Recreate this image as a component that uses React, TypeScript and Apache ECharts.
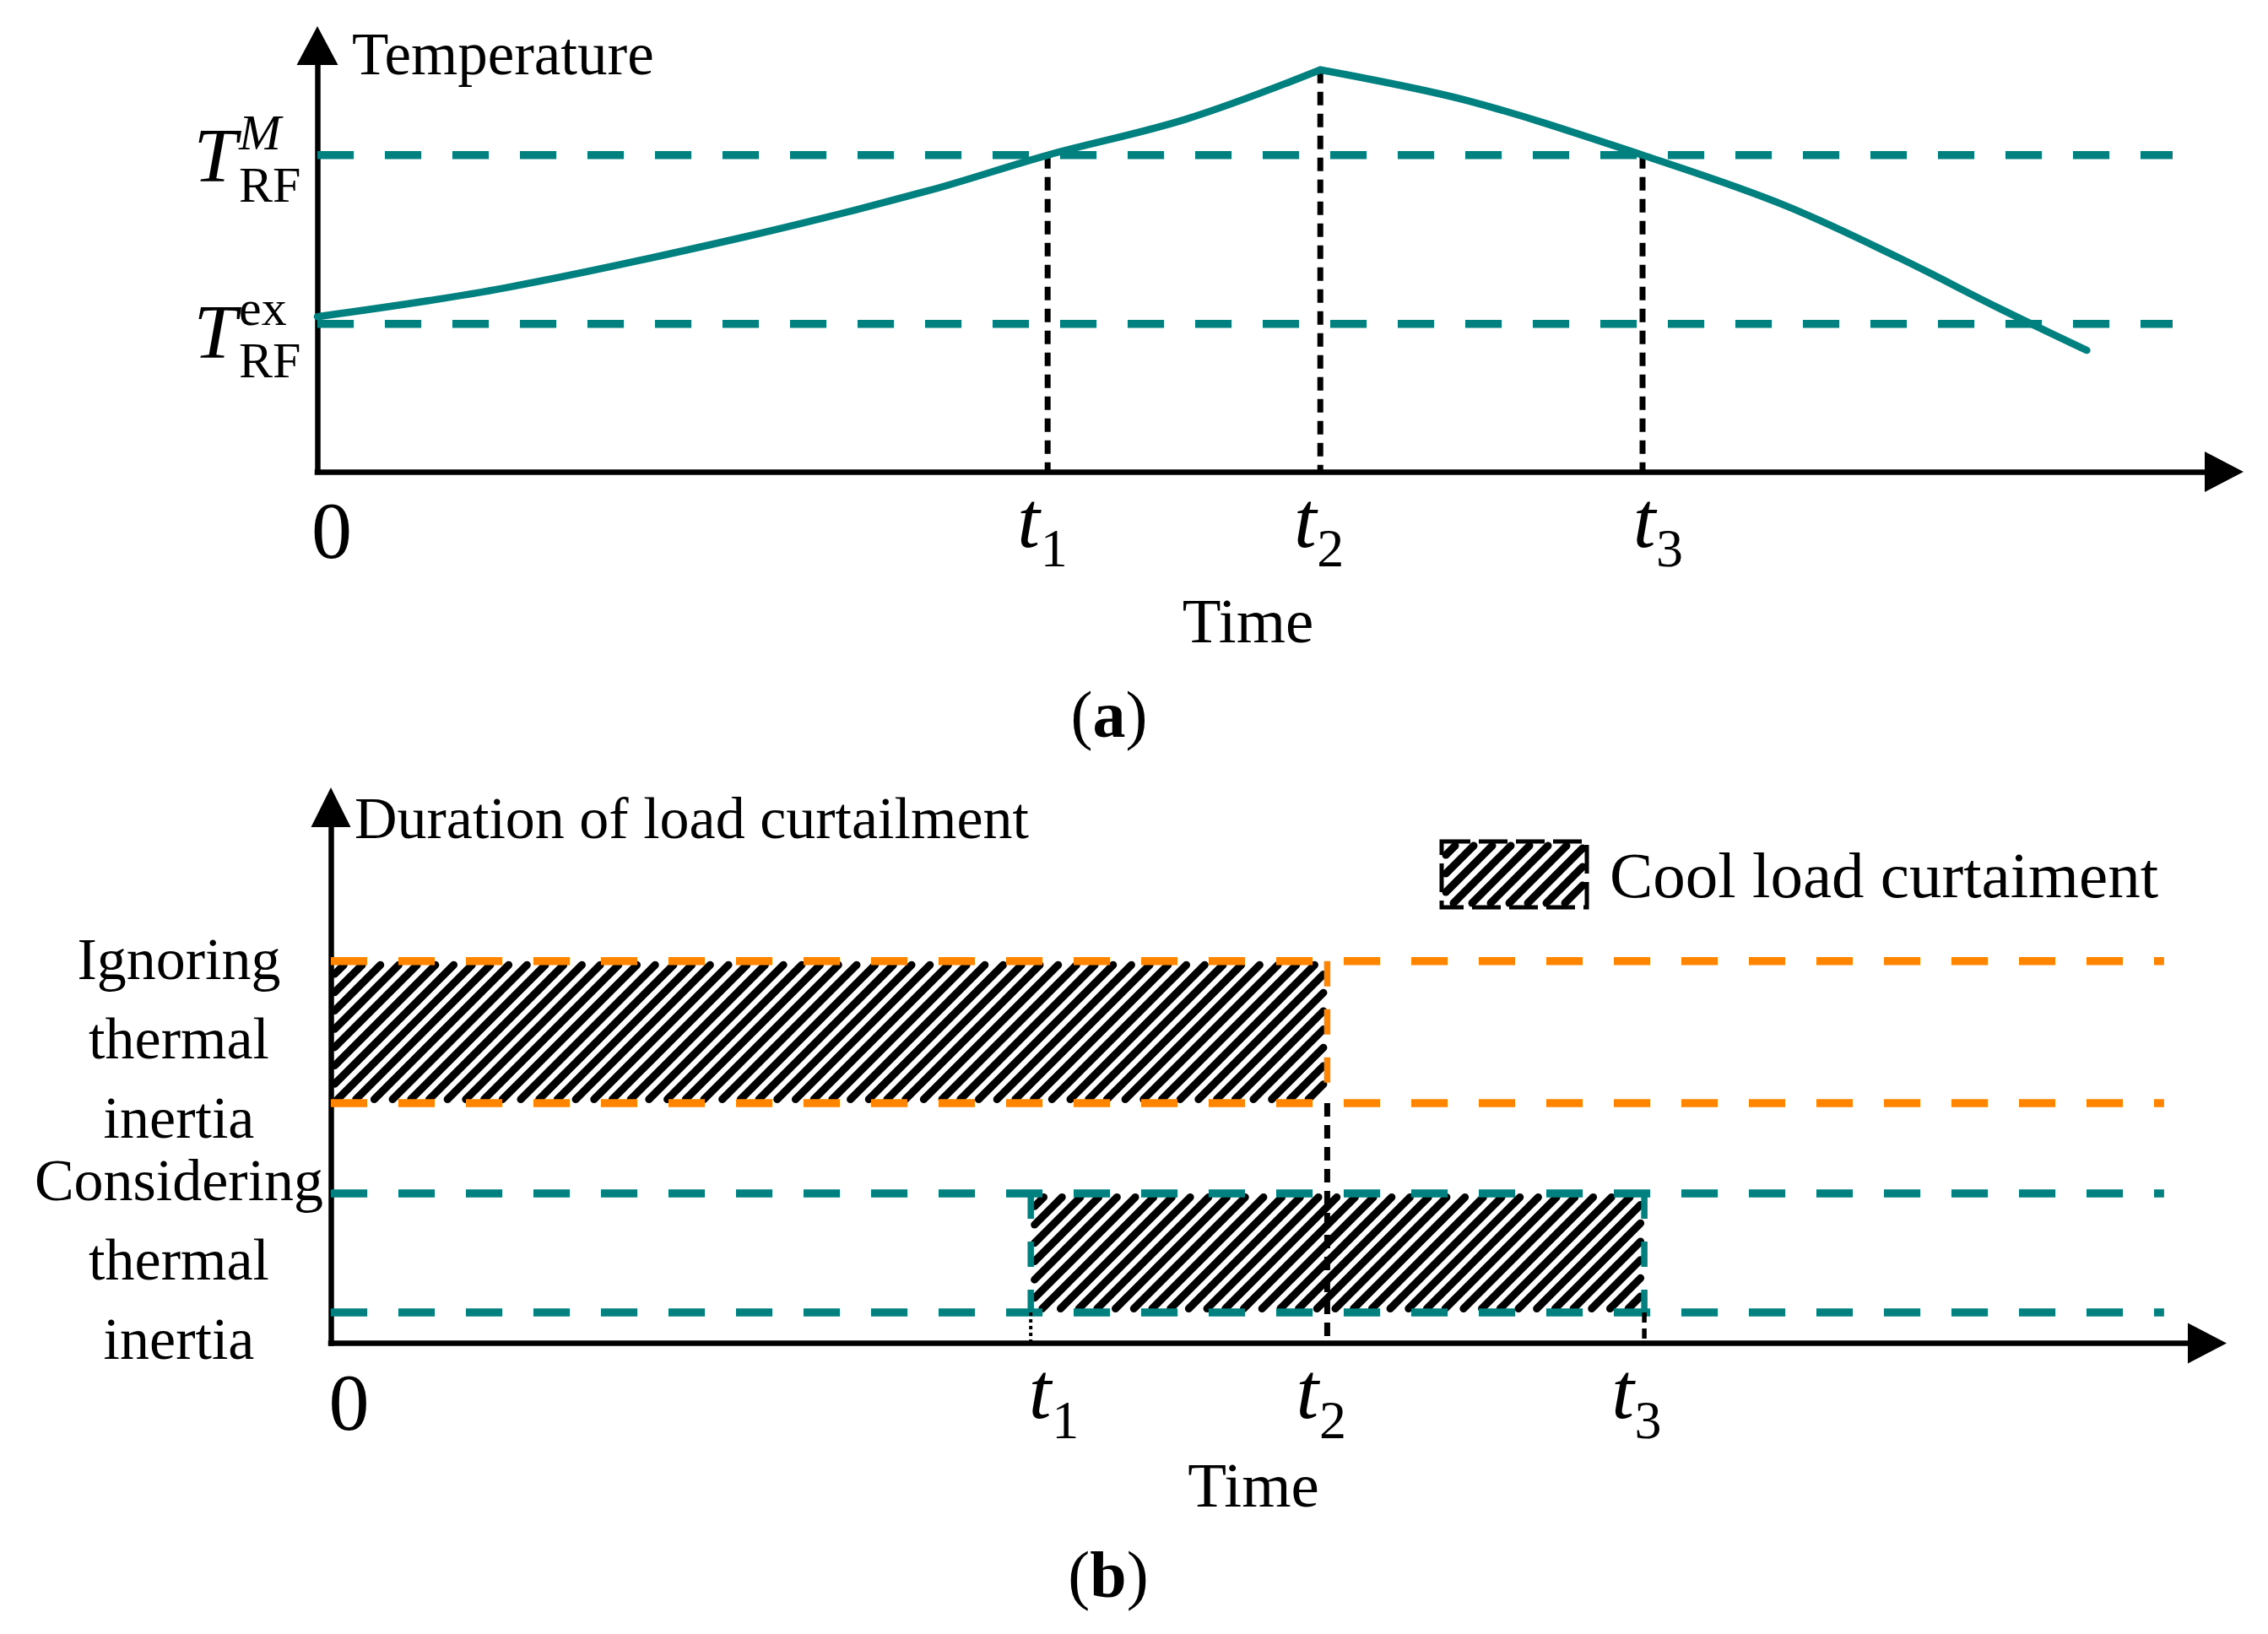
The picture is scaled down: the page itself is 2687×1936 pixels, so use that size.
import React, { useEffect, useRef } from 'react';
import * as echarts from 'echarts';

// ---------- Panel (a): temperature of the refrigerated space ----------
const riseTime = [0, 9.9, 22.3, 32.0, 38.3, 45.6, 52.6];
const riseTemp = [36.4, 43.2, 55.0, 65.9, 74.3, 82.8, 94.3];
const fallTime = [52.6, 60.3, 69.5, 76.8, 83.0, 88.1, 92.8];
const fallTemp = [94.3, 87.1, 74.3, 62.8, 50.1, 38.6, 28.5];
const tempMax = 74.3; // T_RF^M
const tempEx = 34.7; // T_RF^ex
const timesA = [0, 38.3, 52.6, 69.5]; // 0, t1, t2, t3
const refEndA = 97.3;

// ---------- Panel (b): duration of load curtailment ----------
const timesB = [0, 37.3, 53.1, 70.0]; // 0, t1, t2, t3
const refEndB = 97.7;
const ignoringBand = [44.8, 71.3];
const consideringBand = [5.75, 27.95];
const bandLabels = ['Ignoring\nthermal\ninertia', 'Considering\nthermal\ninertia'];

const tickBase = ['0', 't', 't', 't'];
const tickSub = ['', '1', '2', '3'];

// ---------- styles / layout ----------
const FONT = '"Liberation Serif", "Times New Roman", serif';
const TEAL = '#00807F';
const ORANGE = '#FF8400';
const tickDxA = [17, -22.5, -18, 2];
const tickDxB = [21.5, 11, -23.5, -25.5];

function lineSeries(idx: number, data: number[][], color: string, width: number, dash: any, z: number, extra: any = {}) {
  return {
    type: 'line',
    xAxisIndex: idx,
    yAxisIndex: idx,
    data,
    symbol: 'none',
    silent: true,
    z,
    lineStyle: { color, width, type: dash, cap: 'butt' },
    emphasis: { disabled: true },
    ...extra,
  };
}

function hatchLines(X0: number, Y0: number, X1: number, Y1: number, period = 21.7, width = 9, inset = 4.5) {
  const a = X0 + inset, b = X1 - inset, t = Y0 + inset, bt = Y1 - inset;
  const out: any[] = [];
  for (let c = a + t + period * 0.5; c < b + bt; c += period) {
    const xa = Math.max(a, c - bt);
    const xb = Math.min(b, c - t);
    if (xb - xa > 1) {
      out.push({
        type: 'line',
        shape: { x1: xa, y1: c - xa, x2: xb, y2: c - xb },
        style: { stroke: '#000', lineWidth: width, lineCap: 'round' },
      });
    }
  }
  return out;
}

const axisLineStyle = { color: '#000', width: 6.5, cap: 'square' };

function makeAxis(gridIndex: number, arrow: number[], extra: any) {
  return {
    gridIndex,
    type: 'value',
    min: 0,
    max: 100,
    axisLine: { show: true, onZero: false, symbol: ['none', 'triangle'], symbolSize: arrow, lineStyle: axisLineStyle },
    axisTick: { show: false },
    axisLabel: { show: false },
    splitLine: { show: false },
    ...extra,
  };
}

function buildOption(): any {
  const [, t1A, t2A, t3A] = timesA;
  const [, t1B, t2B, t3B] = timesB;
  const peak = riseTemp[riseTemp.length - 1];
  const curveStyle = { smooth: 0.35, lineStyle: { color: TEAL, width: 8.5, cap: 'round', join: 'round' } };
  const series: any[] = [
    // panel (a)
    lineSeries(0, [[0, tempMax], [refEndA, tempMax]], TEAL, 9.5, [43, 37], 2),
    lineSeries(0, [[0, tempEx], [refEndA, tempEx]], TEAL, 9.5, [43, 37], 2),
    lineSeries(0, [[t1A, tempMax], [t1A, 0]], '#000', 7, [16, 10], 4),
    lineSeries(0, [[t2A, peak], [t2A, 0]], '#000', 7, [16, 10], 4),
    lineSeries(0, [[t3A, tempMax], [t3A, 0]], '#000', 7, [16, 10], 4),
    lineSeries(0, riseTime.map((x, i) => [x, riseTemp[i]]), TEAL, 8.5, 'solid', 5, curveStyle),
    lineSeries(0, fallTime.map((x, i) => [x, fallTemp[i]]), TEAL, 8.5, 'solid', 5, curveStyle),
    // panel (b) hatched spans
    {
      type: 'custom',
      coordinateSystem: 'cartesian2d',
      xAxisIndex: 1,
      yAxisIndex: 1,
      silent: true,
      z: 2,
      encode: { x: [0, 1], y: [2, 3] },
      data: [
        [0, t2B, ignoringBand[0], ignoringBand[1]],
        [t1B, t3B, consideringBand[0], consideringBand[1]],
      ],
      renderItem: (params: any, api: any) => {
        const p0 = api.coord([api.value(0), api.value(3)]);
        const p1 = api.coord([api.value(1), api.value(2)]);
        return { type: 'group', children: hatchLines(p0[0], p0[1], p1[0], p1[1]) };
      },
    },
    lineSeries(1, [[0, ignoringBand[1]], [refEndB, ignoringBand[1]]], ORANGE, 9.5, [43, 37], 3),
    lineSeries(1, [[0, ignoringBand[0]], [refEndB, ignoringBand[0]]], ORANGE, 9.5, [43, 37], 3),
    lineSeries(1, [[t2B, ignoringBand[1]], [t2B, ignoringBand[0]]], ORANGE, 7.5, [30, 27], 3),
    lineSeries(1, [[0, consideringBand[1]], [refEndB, consideringBand[1]]], TEAL, 9.5, [43, 37], 3),
    lineSeries(1, [[0, consideringBand[0]], [refEndB, consideringBand[0]]], TEAL, 9.5, [43, 37], 3),
    lineSeries(1, [[t1B, consideringBand[1]], [t1B, consideringBand[0]]], TEAL, 7.5, [30, 27], 3),
    lineSeries(1, [[t3B, consideringBand[1]], [t3B, consideringBand[0]]], TEAL, 7.5, [30, 27], 3),
    lineSeries(1, [[t2B, ignoringBand[0]], [t2B, 0]], '#000', 7, [16, 10], 4),
    lineSeries(1, [[t1B, consideringBand[0]], [t1B, 0]], '#000', 4, [4, 4], 4),
    lineSeries(1, [[t3B, consideringBand[0]], [t3B, 0]], '#000', 5.5, [12, 7], 4),
  ];

  const nameStyle = (size: number, extra: any) => ({ color: '#000', fontFamily: FONT, fontSize: size, ...extra });

  return {
    animation: false,
    backgroundColor: '#fff',
    grid: [
      { left: 376, top: 54, width: 2259, height: 505, containLabel: false, outerBoundsMode: 'none' },
      { left: 392, top: 956.5, width: 2223, height: 635, containLabel: false, outerBoundsMode: 'none' },
    ],
    xAxis: [
      makeAxis(0, [48, 46], {
        name: 'Time', nameLocation: 'middle', nameGap: 176,
        nameTextStyle: nameStyle(75, { align: 'center', verticalAlign: 'middle', padding: [0, 54, 0, 0] }),
      }),
      makeAxis(1, [48, 46], {
        name: 'Time', nameLocation: 'middle', nameGap: 167.5,
        nameTextStyle: nameStyle(75, { align: 'center', verticalAlign: 'middle', padding: [0, 37, 0, 0] }),
      }),
    ],
    yAxis: [
      makeAxis(0, [49, 46], {
        name: 'Temperature', nameLocation: 'end', nameGap: -9.5,
        nameTextStyle: nameStyle(71, { align: 'left', verticalAlign: 'middle', padding: [0, 0, 0, 41] }),
      }),
      makeAxis(1, [47, 47], {
        name: 'Duration of load curtailment', nameLocation: 'end', nameGap: -12.5,
        nameTextStyle: nameStyle(70, { align: 'left', verticalAlign: 'middle', padding: [0, 0, 0, 28] }),
      }),
    ],
    series,
  };
}

function text(content: string, x: number, y: number, size: number, o: any = {}) {
  return {
    type: 'text',
    x,
    y,
    silent: true,
    z: 10,
    style: {
      text: content,
      fill: '#000',
      fontFamily: FONT,
      fontSize: size,
      fontStyle: o.italic ? 'italic' : 'normal',
      fontWeight: 'normal',
      align: o.align || 'center',
      verticalAlign: 'middle',
      lineHeight: o.lineHeight,
      rich: o.rich,
    },
  };
}

function buildGraphics(chart: any) {
  const px = (g: number, x: number, y: number) => chart.convertToPixel({ gridIndex: g }, [x, y]) as number[];
  const els: any[] = [];

  // y labels of panel (a)
  const tRows = [
    { v: tempMax, sup: 'M', supItalic: true, tDy: 0, supDy: -27, subDy: 35 },
    { v: tempEx, sup: 'ex', supItalic: false, tDy: 9, supDy: -19, subDy: 43 },
  ];
  tRows.forEach((r) => {
    const [, y] = px(0, 0, r.v);
    els.push(text('T', 255, y + r.tDy, 92, { italic: true }));
    els.push(text(r.sup, 283, y + r.supDy, 60, { italic: r.supItalic, align: 'left' }));
    els.push(text('RF', 283, y + r.subDy, 60, { align: 'left' }));
  });

  // tick labels of both panels
  const ticks = [
    { g: 0, times: timesA, dx: tickDxA },
    { g: 1, times: timesB, dx: tickDxB },
  ];
  ticks.forEach(({ g, times, dx }) => {
    times.forEach((tv, i) => {
      const [x, y] = px(g, tv, 0);
      if (tickSub[i] === '') {
        els.push(text(tickBase[i], x + dx[i], y + 69.5, 96));
      } else {
        els.push(text(tickBase[i], x + dx[i], y + 56, 96, { italic: true }));
        els.push(text(tickSub[i], x + dx[i] + 30, y + 90.5, 64));
      }
    });
  });

  // band labels of panel (b)
  [ignoringBand, consideringBand].forEach((band, i) => {
    const [, y] = px(1, 0, (band[0] + band[1]) / 2);
    els.push(text(bandLabels[i], 212, y + 8, 70, { lineHeight: 94 }));
  });

  // sub-figure captions
  const cap = (label: string, x: number, y: number) =>
    text('(' + '{b|' + label + '}' + ')', x, y, 78, { rich: { b: { fontFamily: FONT, fontSize: 78, fontWeight: 'bold', fill: '#000' } } });
  els.push(cap('a', 1314, 846));
  els.push(cap('b', 1313, 1865));

  // legend
  const L = { x: 1708, y: 997, w: 172, h: 78 };
  els.push({
    type: 'group',
    silent: true,
    z: 10,
    children: [
      { type: 'rect', shape: { x: L.x, y: L.y, width: L.w, height: L.h }, style: { fill: '#fff', stroke: '#000', lineWidth: 5, lineDash: [34, 10] } },
      ...hatchLines(L.x, L.y, L.x + L.w, L.y + L.h, 22, 9, 5),
    ],
  });
  els.push(text('Cool load curtaiment', 1907, 1037, 77, { align: 'left' }));

  return els;
}

export default function App() {
  const ref = useRef<HTMLDivElement>(null);
  useEffect(() => {
    if (!ref.current) return;
    const chart = echarts.init(ref.current, null, { renderer: 'svg' });
    chart.setOption(buildOption());
    chart.setOption({ graphic: { elements: buildGraphics(chart) } });
    return () => chart.dispose();
  }, []);
  return (
    <div
      ref={ref}
      style={{ position: 'absolute', left: 0, top: 0, width: 2687, height: 1936, background: '#fff' }}
    />
  );
}
